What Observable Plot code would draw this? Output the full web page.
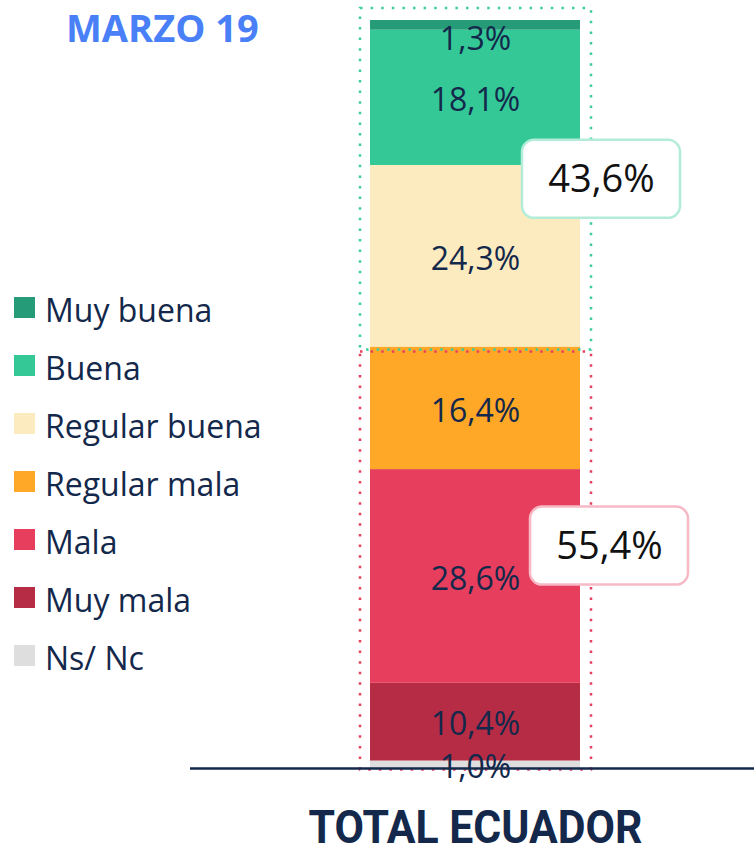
<!DOCTYPE html>
<html><head><meta charset="utf-8">
<script src="https://cdn.jsdelivr.net/npm/d3@7"></script>
<script src="https://cdn.jsdelivr.net/npm/@observablehq/plot@0.6"></script>
<style>
body{margin:0;background:#fff;}
#wrap{position:relative;width:754px;height:846px;overflow:hidden;}
#wrap > svg{position:absolute;left:0;top:0;}
</style></head><body><div id="wrap"></div>
<script>
// ---- data ----
const title = "MARZO 19";
const barName = "TOTAL ECUADOR";
const categories = ["Ns/ Nc", "Muy mala", "Mala", "Regular mala", "Regular buena", "Buena", "Muy buena"];
const values = [1.0, 10.4, 28.6, 16.4, 24.3, 18.1, 1.3];
const labels = ["1,0%", "10,4%", "28,6%", "16,4%", "24,3%", "18,1%", "1,3%"];
const colors = ["#dedede", "#b52c44", "#e63e5c", "#ffa726", "#fdebc0", "#33c896", "#259b78"];
const groupLabels = ["55,4%", "43,6%"];          // negative, positive
const groupMembers = [["Regular mala", "Mala", "Muy mala"], ["Regular buena", "Buena", "Muy buena"]];
const groupColors = ["#e8415f", "#3dcc9c"];
const groupBoxStroke = ["#f6b9c5", "#b3ecd8"];

// ---- derived ----
const navy = "#13284b";
const ends = d3.cumsum(values);
const rows = categories.map((c, i) => ({
  bar: barName, category: c, value: values[i], label: labels[i],
  y1: ends[i] - values[i], y2: ends[i]
}));
const total = d3.sum(values);
const groups = groupLabels.map((g, i) => {
  const members = rows.filter(r => groupMembers[i].includes(r.category));
  return {bar: barName, label: g, lo: d3.min(members, r => r.y1), hi: d3.max(members, r => r.y2)};
});
const H = 846, mTop = 20, mBottom = 78;
const k = (H - mTop - mBottom) / total; // px per unit
const boxHalf = 39 / k;
const boxOff = [-8 / k, -4.5 / k];       // vertical nudge (px -> units)
const boxes = groups.map((g, i) => {
  const mid = (g.lo + g.hi) / 2 - boxOff[i];
  return {...g, mid, b1: mid - boxHalf, b2: mid + boxHalf, i};
});

const chart = Plot.plot({
  width: 754, height: H,
  marginLeft: 190, marginRight: 0, marginTop: mTop, marginBottom: mBottom,
  x: {type: "band", domain: [barName], range: [370, 580], padding: 0, label: null},
  y: {domain: [0, total], axis: null},
  color: {domain: categories, range: colors},
  style: {fontFamily: "'Open Sans', sans-serif", background: "transparent", overflow: "visible"},
  marks: [
    Plot.barY(rows, {x: "bar", y1: "y1", y2: "y2", fill: "category"}),
    // dotted group frames
    Plot.barY([groups[0]], {x: "bar", y1: 0, y2: "hi", fill: "none", stroke: groupColors[0],
      strokeWidth: 2.5, strokeDasharray: "2.5,8.1", insetLeft: -10, insetRight: -11, insetTop: 5, insetBottom: -1.5}),
    Plot.barY([groups[1]], {x: "bar", y1: "lo", y2: total, fill: "none", stroke: groupColors[1],
      strokeWidth: 2.5, strokeDasharray: "2.5,8.1", insetLeft: -10, insetRight: -11, insetTop: -12, insetBottom: -3}),
    // baseline
    Plot.ruleY([0], {stroke: navy, strokeWidth: 2.5}),
    // segment labels
    Plot.text(rows.filter(r => r.category !== "Muy buena"), {x: "bar", y: d => (d.y1 + d.y2) / 2, text: "label",
      fill: navy, fontSize: 32, dy: 3}),
    Plot.text(rows.filter(r => r.category === "Muy buena"), {x: "bar", y: d => (d.y1 + d.y2) / 2, text: "label",
      fill: navy, fontSize: 32, dy: 14}),
    // group total boxes
    Plot.barY([boxes[0]], {x: "bar", y1: "b1", y2: "b2", fill: "white", stroke: groupBoxStroke[0], strokeWidth: 2.5,
      rx: 12, insetLeft: 160, insetRight: -108}),
    Plot.barY([boxes[1]], {x: "bar", y1: "b1", y2: "b2", fill: "white", stroke: groupBoxStroke[1], strokeWidth: 2.5,
      rx: 12, insetLeft: 152, insetRight: -100}),
    Plot.text([boxes[0]], {x: "bar", y: "mid", text: "label", fill: "#111", fontSize: 38, dx: 134, dy: 1}),
    Plot.text([boxes[1]], {x: "bar", y: "mid", text: "label", fill: "#111", fontSize: 38, dx: 126, dy: 1}),
    Plot.axisX({tickSize: 0, tickPadding: 42, fontSize: 46, fontWeight: "bold", fill: navy, label: null,
      fontFamily: "Roboto, sans-serif"})
  ]
});
const wrap = document.getElementById("wrap");
wrap.appendChild(chart);
// compress axis label horizontally to match
d3.select(chart).selectAll("g[aria-label='x-axis tick label'] text")
  .attr("textLength", 334).attr("lengthAdjust", "spacingAndGlyphs");

// ---- title + legend overlay ----
const legendOrder = categories.slice().reverse();
const ov = d3.select(wrap).append("svg").attr("width", 754).attr("height", 846)
  .style("font-family", "'Open Sans', sans-serif");
ov.append("text").attr("x", 66).attr("y", 42).attr("fill", "#4a80f7")
  .attr("font-size", 38).attr("font-weight", "bold").text(title);
const lg = ov.selectAll("g.lg").data(legendOrder).join("g")
  .attr("transform", (d, i) => `translate(0,${58 * i})`);
lg.append("rect").attr("x", 14).attr("y", 297).attr("width", 21).attr("height", 21)
  .attr("fill", d => colors[categories.indexOf(d)]);
lg.append("text").attr("x", 45).attr("y", 322).attr("font-size", 32).attr("fill", navy).text(d => d);
</script></body></html>
